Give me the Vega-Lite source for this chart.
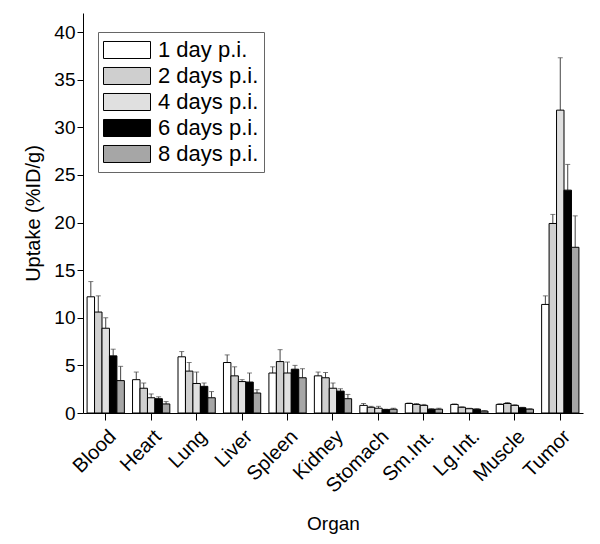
{
  "$schema": "https://vega.github.io/schema/vega-lite/v6.json",
  "width": 500,
  "height": 400,
  "autosize": {"type": "none"},
  "padding": {"left": 83, "top": 13, "right": 17, "bottom": 131},
  "config": {
    "font": "Liberation Sans",
    "view": {"stroke": null},
    "axis": {"grid": false, "domainColor": "black", "tickColor": "black", "labelColor": "black", "titleColor": "black", "titleFontWeight": "normal"}
  },
  "data": {
    "values": [
      {"organ": "Blood", "series": "1 day p.i.", "value": 12.2, "upper": 13.8},
      {"organ": "Blood", "series": "2 days p.i.", "value": 10.6, "upper": 12.3},
      {"organ": "Blood", "series": "4 days p.i.", "value": 8.9, "upper": 10.0},
      {"organ": "Blood", "series": "6 days p.i.", "value": 6.0, "upper": 6.7},
      {"organ": "Blood", "series": "8 days p.i.", "value": 3.4, "upper": 4.9},
      {"organ": "Heart", "series": "1 day p.i.", "value": 3.5, "upper": 4.3},
      {"organ": "Heart", "series": "2 days p.i.", "value": 2.6, "upper": 3.15},
      {"organ": "Heart", "series": "4 days p.i.", "value": 1.6, "upper": 2.0},
      {"organ": "Heart", "series": "6 days p.i.", "value": 1.5, "upper": 1.7},
      {"organ": "Heart", "series": "8 days p.i.", "value": 0.95, "upper": 1.2},
      {"organ": "Lung", "series": "1 day p.i.", "value": 5.9, "upper": 6.45},
      {"organ": "Lung", "series": "2 days p.i.", "value": 4.4, "upper": 5.3},
      {"organ": "Lung", "series": "4 days p.i.", "value": 3.1, "upper": 4.3},
      {"organ": "Lung", "series": "6 days p.i.", "value": 2.8, "upper": 3.15},
      {"organ": "Lung", "series": "8 days p.i.", "value": 1.6, "upper": 2.25},
      {"organ": "Liver", "series": "1 day p.i.", "value": 5.3, "upper": 6.1},
      {"organ": "Liver", "series": "2 days p.i.", "value": 3.9, "upper": 4.85},
      {"organ": "Liver", "series": "4 days p.i.", "value": 3.3, "upper": 3.5},
      {"organ": "Liver", "series": "6 days p.i.", "value": 3.25, "upper": 4.2},
      {"organ": "Liver", "series": "8 days p.i.", "value": 2.1, "upper": 2.45},
      {"organ": "Spleen", "series": "1 day p.i.", "value": 4.2, "upper": 4.85},
      {"organ": "Spleen", "series": "2 days p.i.", "value": 5.4, "upper": 6.65},
      {"organ": "Spleen", "series": "4 days p.i.", "value": 4.2, "upper": 5.35},
      {"organ": "Spleen", "series": "6 days p.i.", "value": 4.6, "upper": 5.0},
      {"organ": "Spleen", "series": "8 days p.i.", "value": 3.7, "upper": 4.65},
      {"organ": "Kidney", "series": "1 day p.i.", "value": 3.9, "upper": 4.3},
      {"organ": "Kidney", "series": "2 days p.i.", "value": 3.7, "upper": 4.25},
      {"organ": "Kidney", "series": "4 days p.i.", "value": 2.6, "upper": 3.15},
      {"organ": "Kidney", "series": "6 days p.i.", "value": 2.3, "upper": 2.55},
      {"organ": "Kidney", "series": "8 days p.i.", "value": 1.5, "upper": 1.95},
      {"organ": "Stomach", "series": "1 day p.i.", "value": 0.8, "upper": 1.0},
      {"organ": "Stomach", "series": "2 days p.i.", "value": 0.6, "upper": 0.7},
      {"organ": "Stomach", "series": "4 days p.i.", "value": 0.5, "upper": 0.7},
      {"organ": "Stomach", "series": "6 days p.i.", "value": 0.35, "upper": 0.4},
      {"organ": "Stomach", "series": "8 days p.i.", "value": 0.4, "upper": 0.5},
      {"organ": "Sm.Int.", "series": "1 day p.i.", "value": 1.0, "upper": 1.05},
      {"organ": "Sm.Int.", "series": "2 days p.i.", "value": 0.9, "upper": 1.0},
      {"organ": "Sm.Int.", "series": "4 days p.i.", "value": 0.8, "upper": 0.9},
      {"organ": "Sm.Int.", "series": "6 days p.i.", "value": 0.4, "upper": 0.45},
      {"organ": "Sm.Int.", "series": "8 days p.i.", "value": 0.4, "upper": 0.5},
      {"organ": "Lg.Int.", "series": "1 day p.i.", "value": 0.9, "upper": 0.95},
      {"organ": "Lg.Int.", "series": "2 days p.i.", "value": 0.6, "upper": 0.65},
      {"organ": "Lg.Int.", "series": "4 days p.i.", "value": 0.45, "upper": 0.5},
      {"organ": "Lg.Int.", "series": "6 days p.i.", "value": 0.4, "upper": 0.45},
      {"organ": "Lg.Int.", "series": "8 days p.i.", "value": 0.2, "upper": 0.25},
      {"organ": "Muscle", "series": "1 day p.i.", "value": 0.9, "upper": 0.97},
      {"organ": "Muscle", "series": "2 days p.i.", "value": 1.0, "upper": 1.1},
      {"organ": "Muscle", "series": "4 days p.i.", "value": 0.8, "upper": 0.87},
      {"organ": "Muscle", "series": "6 days p.i.", "value": 0.55, "upper": 0.6},
      {"organ": "Muscle", "series": "8 days p.i.", "value": 0.4, "upper": 0.45},
      {"organ": "Tumor", "series": "1 day p.i.", "value": 11.4, "upper": 12.3},
      {"organ": "Tumor", "series": "2 days p.i.", "value": 19.9, "upper": 20.85},
      {"organ": "Tumor", "series": "4 days p.i.", "value": 31.8, "upper": 37.3},
      {"organ": "Tumor", "series": "6 days p.i.", "value": 23.4, "upper": 26.1},
      {"organ": "Tumor", "series": "8 days p.i.", "value": 17.4, "upper": 20.7}
    ]
  },
  "encoding": {
    "x": {
      "field": "organ", "type": "nominal", "sort": null,
      "scale": {"paddingInner": 0.18, "paddingOuter": 0.09},
      "axis": {"title": "Organ", "labelAngle": -45, "labelAlign": "right", "labelBaseline": "top", "labelFontSize": 20, "labelPadding": 6, "tickSize": 7, "titleFontSize": 19, "titlePadding": 19}
    },
    "xOffset": {"field": "series", "type": "nominal", "sort": null, "scale": {"paddingInner": 0, "paddingOuter": 0}}
  },
  "layer": [
    {
      "mark": {"type": "rule", "color": "#444", "strokeWidth": 1},
      "encoding": {
        "y": {"field": "value", "type": "quantitative"},
        "y2": {"field": "upper"}
      }
    },
    {
      "mark": {"type": "tick", "color": "#444", "size": 5, "thickness": 1},
      "encoding": {
        "y": {"field": "upper", "type": "quantitative"}
      }
    },
    {
      "mark": {"type": "bar", "stroke": "black", "strokeWidth": 1},
      "encoding": {
        "y": {
          "field": "value", "type": "quantitative",
          "scale": {"domain": [0, 42], "nice": false, "zero": true},
          "axis": {
            "title": "Uptake (%ID/g)",
            "values": [0, 2.5, 5, 7.5, 10, 12.5, 15, 17.5, 20, 22.5, 25, 27.5, 30, 32.5, 35, 37.5, 40],
            "labelExpr": "datum.value % 5 === 0 ? datum.label : ''",
            "tickSize": {"condition": {"test": "datum.value % 5 !== 0", "value": 3}, "value": 6},
            "labelFontSize": 19, "labelPadding": 2, "titleFontSize": 20, "titlePadding": 10
          }
        },
        "fill": {
          "field": "series", "type": "nominal", "sort": null,
          "scale": {"domain": ["1 day p.i.", "2 days p.i.", "4 days p.i.", "6 days p.i.", "8 days p.i."], "range": ["white", "#cfcfcf", "#e0e0e0", "black", "#a6a6a6"]},
          "legend": {
            "title": null, "orient": "none", "legendX": 15, "legendY": 19,
            "symbolType": "M-1,-0.362H1V0.362H-1Z", "symbolSize": 2209,
            "symbolStrokeColor": "black", "symbolStrokeWidth": 1,
            "labelFontSize": 22, "labelColor": "black", "labelOffset": 7, "rowPadding": 0, "clipHeight": 26,
            "padding": 5, "strokeColor": "#666", "fillColor": "white", "labelLimit": 300
          }
        }
      }
    }
  ]
}
